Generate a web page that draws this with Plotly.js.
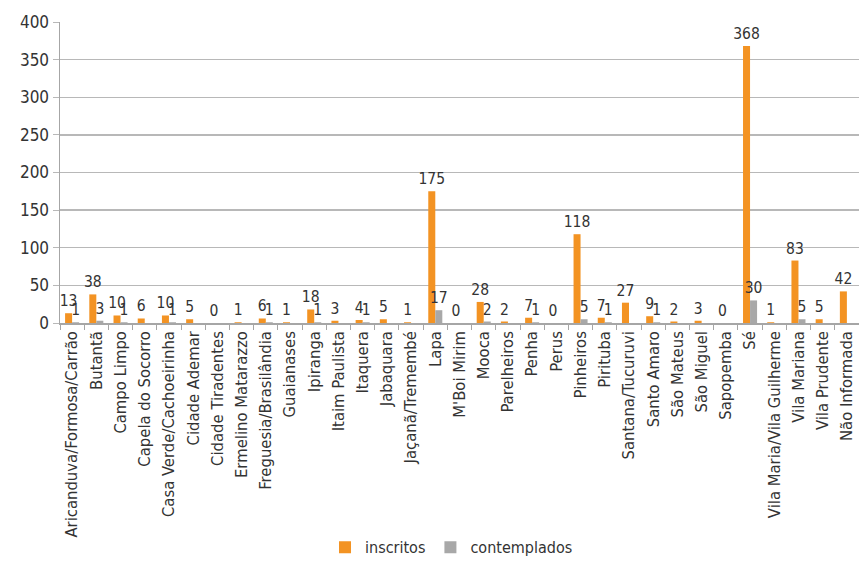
<!DOCTYPE html>
<html>
<head>
<meta charset="utf-8">
<script src="https://cdn.plot.ly/plotly-3.0.1.min.js"></script>
<style>html,body{margin:0;padding:0;background:#fff;}#chart{width:859px;height:565px;}</style>
</head>
<body>
<div id="chart"></div>
<script>
const categories = ["Aricanduva/Formosa/Carrão","Butantã","Campo Limpo","Capela do Socorro","Casa Verde/Cachoeirinha","Cidade Ademar","Cidade Tiradentes","Ermelino Matarazzo","Freguesia/Brasilândia","Guaianases","Ipiranga","Itaim Paulista","Itaquera","Jabaquara","Jaçanã/Tremembé","Lapa","M'Boi Mirim","Mooca","Parelheiros","Penha","Perus","Pinheiros","Pirituba","Santana/Tucuruvi","Santo Amaro","São Mateus","São Miguel","Sapopemba","Sé","Vila Maria/Vila Guilherme","Vila Mariana","Vila Prudente","Não Informada"];
const inscritos = [13,38,10,6,10,5,0,1,6,1,18,3,4,5,1,175,0,28,2,7,0,118,7,27,9,2,3,0,368,1,83,5,42];
const contemplados = [1,3,1,null,1,null,null,null,1,null,1,null,1,null,null,17,null,2,null,1,null,5,1,null,1,null,null,null,30,null,5,null,null];
const yTicks = [0,50,100,150,200,250,300,350,400];

const FONT = "DejaVu Sans Condensed, DejaVu Sans, sans-serif";
const labelFont = {family:FONT, size:15.5, color:"#333333"};
const traces = [
  {type:"bar", name:"inscritos", x:categories, y:inscritos, marker:{color:"#F39323"},
   text:inscritos.map(String), textposition:"outside", textfont:labelFont, constraintext:"none", cliponaxis:false, hoverinfo:"x+y"},
  {type:"bar", name:"contemplados", x:categories, y:contemplados, marker:{color:"#A8A8A8"},
   text:contemplados.map(v => v==null ? "" : String(v)), textposition:"outside", textfont:labelFont, constraintext:"none", cliponaxis:false, hoverinfo:"x+y"}
];
const layout = {
  width:859, height:565,
  margin:{l:60, r:0, t:22, b:242},
  paper_bgcolor:"#fff", plot_bgcolor:"#fff",
  barmode:"group", bargap:0.42, bargroupgap:0,
  font:{family:FONT, color:"#333333"},
  xaxis:{type:"category", tickangle:-90, tickfont:{size:16.5, color:"#333333"},
    showline:true, linecolor:"#a6a6a6", linewidth:1.5, ticks:"outside", tickson:"boundaries", ticklen:5, tickcolor:"#a6a6a6", showgrid:false, automargin:false},
  yaxis:{range:[0,400], tickvals:yTicks, ticktext:yTicks.map(String), tickfont:{size:17, color:"#333333"},
    showgrid:true, gridcolor:"#b8b8b8", gridwidth:1.3, zeroline:false, showline:true, linecolor:"#a6a6a6", linewidth:1.5,
    ticks:"outside", ticklen:6, tickcolor:"#b8b8b8", automargin:false},
  legend:{orientation:"h", x:0.49, xanchor:"center", y:-0.745, yanchor:"middle", font:{size:16, color:"#333333"}, itemwidth:30, traceorder:"normal"},
  showlegend:true
};
Plotly.newPlot("chart", traces, layout, {displayModeBar:false, staticPlot:true});
</script>
</body>
</html>
